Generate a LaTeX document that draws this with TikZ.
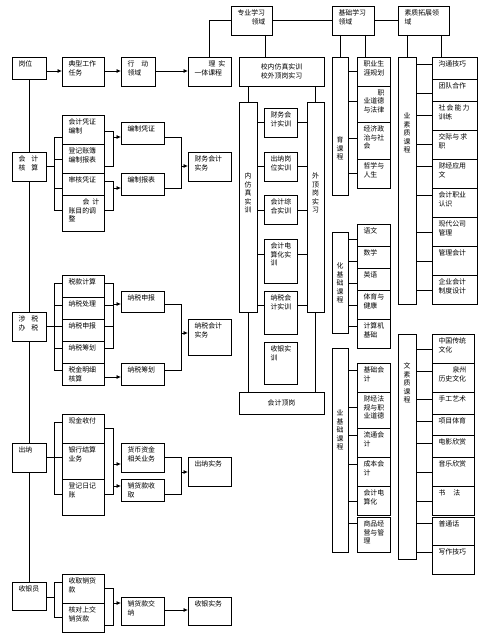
\documentclass[tikz,border=0pt]{standalone}
\usepackage{fontspec}
\newfontfamily\cjk{Noto Sans CJK SC}
\usetikzlibrary{arrows.meta}
\tikzset{
 bx/.style={draw, line width=0.75pt, inner sep=0pt, outer sep=0pt, rectangle},
 tx/.style={inner sep=0pt, outer sep=0pt, align=left, font=\cjk\fontsize{6.9}{8.5}\selectfont},
 vt/.style={inner sep=0pt, outer sep=0pt, align=center, font=\cjk\fontsize{6.9}{8.5}\selectfont},
 cb/.style={bx, align=center, font=\cjk\fontsize{6.9}{8.5}\selectfont},
 ln/.style={line width=0.75pt},
 ar/.style={line width=0.75pt, -{Latex[length=4.5pt,width=4pt]}},
}
\newcommand\B[6]{\node[bx, anchor=north west, minimum width={#4-#2}, minimum height={#5-#3}] (#1) at (#2,#3) {};
 \node[tx, anchor=north west] (#1t) at ([xshift=6.5pt,yshift=-4pt]#1.north west) {#6};}
\newcommand\Cb[6]{\node[cb, anchor=north west, minimum width={#4-#2}, minimum height={#5-#3}] (#1) at (#2,#3) {#6};}
\newcommand\V[7]{\node[bx, anchor=north west, minimum width={#4-#2}, minimum height={#5-#3}] (#1) at (#2,#3) {};
 \node[vt, anchor=north] (#1t) at (#1.north |- 0,#7) {#6};}
\newcommand\hl[3]{\draw[ln] (#1.east |- 0,#3) -- (#2.west |- 0,#3);}
\newcommand\ha[3]{\draw[ar] (#1.east |- 0,#3) -- (#2.west |- 0,#3);}
\begin{document}
\begin{tikzpicture}[x=1pt,y=-1pt]
\useasboundingbox (0,0) rectangle (484,634);
% top row
\B{gw}{12}{57}{46}{79}{岗位}
\B{dx}{62}{57}{104}{86}{典型工作\\任务}
\B{xd}{121}{57}{155}{86}{行\hspace{7pt}动\\领域}
\B{ls}{188}{57}{231}{86}{\hspace*{14pt}理\hspace{3pt}实\\一体课程}
\B{zy}{231}{6}{272}{35}{专业学习\\\hspace*{14pt}领域}
\B{jc}{332}{6}{374}{35}{基础学习\\领域}
\B{sz}{398}{6}{449}{35}{素质拓展领\\域}
\Cb{xn}{239}{57}{324}{86}{校内仿真实训\\校外顶岗实习}
% left column
\B{k0}{12}{152}{46}{181}{会\hspace{6pt}计\\核\hspace{6pt}算}
\B{a1}{62}{115}{104}{144}{会计凭证\\编制}
\B{a2}{62}{144}{104}{173}{登记账簿\\编制报表}
\B{a3}{62}{173}{104}{195}{审核凭证}
\B{a4}{62}{195}{104}{231}{\hspace*{14pt}会\hspace{3pt}计\\账目的调\\整}
\B{pz}{121}{122}{164}{144}{编制凭证}
\B{bb}{121}{173}{164}{195}{编制报表}
\B{cw}{188}{152}{231}{181}{财务会计\\实务}
\B{k1}{12}{312}{46}{341}{涉\hspace{6pt}税\\办\hspace{6pt}税}
\B{d1}{62}{275}{104}{297}{税款计算}
\B{d2}{62}{297}{104}{319}{纳税处理}
\B{d3}{62}{319}{104}{341}{纳税申报}
\B{d4}{62}{341}{104}{363}{纳税筹划}
\B{d5}{62}{363}{104}{385}{税金明细\\核算}
\B{ns}{121}{291}{164}{312}{纳税申报}
\B{nc}{121}{363}{164}{385}{纳税筹划}
\B{nk}{188}{319}{231}{355}{纳税会计\\实务}
\B{k2}{12}{443}{46}{472}{出纳}
\B{e1}{62}{414}{104}{443}{现金收付}
\B{e2}{62}{443}{104}{479}{银行结算\\业务}
\B{e3}{62}{479}{104}{515}{登记日记\\账}
\B{hb}{121}{443}{164}{472}{货币资金\\相关业务}
\B{xs}{121}{479}{164}{501}{销货款收\\取}
\B{cn}{188}{457}{231}{486}{出纳实务}
\B{k3}{12}{582}{46}{610}{收银员}
\B{f1}{62}{574}{104}{603}{收取销货\\款}
\B{f2}{62}{603}{104}{632}{核对上交\\销货款}
\B{xj}{121}{597}{164}{625}{销货款交\\纳}
\B{sy}{188}{597}{231}{625}{收银实务}
% middle column
\V{lb}{239}{102}{257}{312}{内\\仿\\真\\实\\训}{173}
\V{rb}{307}{102}{324}{312}{外\\顶\\岗\\实\\习}{173}
\B{m1}{264}{108}{297}{137}{财务会\\计实训}
\B{m2}{264}{152}{297}{181}{出纳岗\\位实训}
\B{m3}{264}{195}{297}{224}{会计综\\合实训}
\B{m4}{264}{239}{297}{283}{会计电\\算化实\\训}
\B{m5}{264}{291}{297}{334}{纳税会\\计实训}
\B{m6}{264}{342}{297}{384}{收银实\\训}
\Cb{kd}{239}{392}{324}{414}{会计顶岗}
% base column
\V{g1}{332}{57}{348}{195}{育\\课\\程}{137}
\B{c1}{357}{57}{390}{86}{职业生\\涯规划}
\B{c2}{357}{86}{390}{122}{\hspace*{14pt}职\\业道德\\与法律}
\B{c3}{357}{122}{390}{159}{经济政\\治与社\\会}
\B{c4}{357}{159}{390}{188}{哲学与\\人生}
\V{g2}{332}{232}{348}{333}{化\\基\\础\\课\\程}{263}
\B{c5}{357}{224}{390}{246}{语文}
\B{c6}{357}{246}{390}{268}{数学}
\B{c7}{357}{268}{390}{290}{英语}
\B{c8}{357}{290}{390}{319}{体育与\\健康}
\B{c9}{357}{319}{390}{348}{计算机\\基础}
\V{g3}{332}{348}{348}{552}{业\\基\\础\\课\\程}{410}
\B{c10}{357}{363}{390}{392}{基础会\\计}
\B{c11}{357}{392}{390}{428}{财经法\\规与职\\业道德}
\B{c12}{357}{428}{390}{457}{流通会\\计}
\B{c13}{357}{457}{390}{486}{成本会\\计}
\B{c14}{357}{486}{390}{515}{会计电\\算化}
\B{c15}{357}{517}{390}{552}{商品经\\营与管\\理}
% quality column
\V{q1}{398}{57}{416}{304}{业\\素\\质\\课\\程}{113}
\B{t1}{432}{57}{477}{79}{沟通技巧}
\B{t2}{432}{79}{477}{101}{团队合作}
\B{t3}{432}{101}{477}{130}{社\,会\,能\,力\\训练}
\B{t4}{432}{130}{477}{159}{交际与\,求\\职}
\B{t5}{432}{159}{477}{188}{财经应用\\文}
\B{t6}{432}{188}{477}{217}{会计职业\\认识}
\B{t7}{432}{217}{477}{246}{现代公司\\管理}
\B{t8}{432}{246}{477}{275}{管理会计}
\B{t9}{432}{275}{477}{304}{企业会计\\制度设计}
\V{q2}{398}{334}{416}{559}{文\\素\\质\\课\\程}{363}
\B{u1}{432}{334}{474}{363}{中国传统\\文化}
\B{u2}{432}{363}{474}{392}{\hspace*{14pt}泉州\\历史文化}
\B{u3}{432}{392}{474}{414}{手工艺术}
\B{u4}{432}{414}{474}{435}{项目体育}
\B{u5}{432}{435}{474}{457}{电影欣赏}
\B{u6}{432}{457}{474}{486}{音乐欣赏}
\B{u7}{432}{486}{474}{515}{书\hspace{8pt}法}
\B{u8}{432}{517}{474}{545}{普通话}
\B{u9}{432}{545}{474}{574}{写作技巧}
% ---- connectors: top row
\ha{gw}{dx}{71}
\ha{dx}{xd}{71}
\ha{xd}{ls}{71}
\draw[ln] (ls.north) |- (zy.west);
\draw[ln] (zy.east) -- (jc.west);
\draw[ln] (jc.east) -- (sz.west);
\draw[ln] ([xshift=13.5pt]zy.south) -- ([xshift=13.5pt]zy.south |- xn.north);
\draw[ln] (xn.south -| lb.north) -- (lb.north);
\draw[ln] (xn.south -| rb.north) -- (rb.north);
\draw[ln] (lb.south) -- (lb.south |- kd.north);
\draw[ln] (rb.south) -- (rb.south |- kd.north);
\foreach \m/\y in {m1/122,m2/166,m3/210,m4/254,m5/305}{\hl{lb}{\m}{\y}\hl{\m}{rb}{\y}}
% trunk
\draw[ln] (gw.south) -- (k0.north);
\draw[ln] (k0.south) -- (k1.north);
\draw[ln] (k1.south) -- (k2.north);
\draw[ln] (k2.south) -- (k3.north);
% accounting group
\draw[ln] (k0.east |- 0,166) -- ++(8,0);
\draw[ln] (a1.west |- 0,137) -- ++(-8,0) |- (a4.west |- 0,210);
\draw[ln] (a2.west |- 0,159) -- ++(-8,0);
\draw[ln] (a3.west |- 0,188) -- ++(-8,0);
\draw[ln] (a1.east |- 0,131) -- ++(9,0) |- (a2.east |- 0,166);
\draw[ar] (a1.east |- 0,137) ++(9,0) -- (pz.west |- 0,137);
\draw[ln] (a3.east |- 0,181) -- ++(9,0) |- (a4.east |- 0,210);
\draw[ar] (a3.east |- 0,188) ++(9,0) -- (bb.west |- 0,188);
\draw[ln] (pz.east |- 0,137) -- ++(17,0) |- (bb.east |- 0,188);
\draw[ar] (pz.east |- 0,166) ++(17,0) -- (cw.west |- 0,166);
% tax group
\draw[ln] (k1.east |- 0,326) -- ++(8,0);
\draw[ln] (d1.west |- 0,283) -- ++(-8,0) |- (d5.west |- 0,370);
\foreach \d/\y in {d2/305,d3/326,d4/348}{\draw[ln] (\d.west |- 0,\y) -- ++(-8,0);}
\draw[ln] (d1.east |- 0,283) -- ++(9,0) |- (d4.east |- 0,348);
\foreach \d/\y in {d2/305,d3/326}{\draw[ln] (\d.east |- 0,\y) -- ++(9,0);}
\draw[ar] (d1.east |- 0,304) ++(9,0) -- (ns.west |- 0,304);
\ha{d5}{nc}{377}
\draw[ln] (ns.east |- 0,304) -- ++(17,0) |- (nc.east |- 0,370);
\draw[ar] (ns.east |- 0,333) ++(17,0) -- (nk.west |- 0,333);
% cashier group
\draw[ln] (k2.east |- 0,457) -- ++(8,0);
\draw[ln] (e1.west |- 0,422) -- ++(-8,0) |- (e3.west |- 0,494);
\draw[ln] (e2.west |- 0,457) -- ++(-8,0);
\draw[ln] (e1.east |- 0,428) -- ++(9,0) |- (e3.east |- 0,494);
\draw[ar] (e2.east |- 0,464) ++(9,0) -- (hb.west |- 0,464);
\draw[ar] (e2.east |- 0,486) ++(9,0) -- (xs.west |- 0,486);
\draw[ln] (hb.east |- 0,457) -- ++(17,0) |- (xs.east |- 0,494);
\draw[ar] (hb.east |- 0,472) ++(17,0) -- (cn.west |- 0,472);
% cash register group
\draw[ln] (k3.east |- 0,597) -- ++(8,0);
\draw[ln] (f1.west |- 0,582) -- ++(-8,0) |- (f2.west |- 0,617);
\draw[ln] (f1.east |- 0,588) -- ++(9,0) |- (f2.east |- 0,625);
\draw[ar] (f1.east |- 0,603) ++(9,0) -- (xj.west |- 0,603);
\ha{xj}{sy}{610}
% base column connectors
\draw[ln] (jc.south -| g1.north) -- (g1.north);
\draw[ln] ([xshift=12pt]jc.south) -- ([xshift=12pt]jc.south |- c1.north);
\foreach \c/\y in {c1/71,c2/101,c3/138,c4/173}{\hl{g1}{\c}{\y}}
\foreach \c/\y in {c5/239,c6/261,c7/283,c8/305,c9/326}{\hl{g2}{\c}{\y}}
\foreach \c/\y in {c10/370,c11/407,c12/435,c13/464,c14/501,c15/523}{\hl{g3}{\c}{\y}}
% quality column connectors
\draw[ln] (sz.south -| q1.north) -- (q1.north);
\draw[ln] ([xshift=17.5pt]sz.south) -- ([xshift=17.5pt]sz.south |- t1.north);
\foreach \c/\y in {t1/64,t2/93,t3/115,t4/144,t5/166,t6/195,t7/232,t8/261,t9/290}{\hl{q1}{\c}{\y}}
\foreach \c/\y in {u1/349,u2/371,u3/399,u4/421,u5/443,u6/472,u7/501,u8/523,u9/552}{\hl{q2}{\c}{\y}}
\end{tikzpicture}
\end{document}
